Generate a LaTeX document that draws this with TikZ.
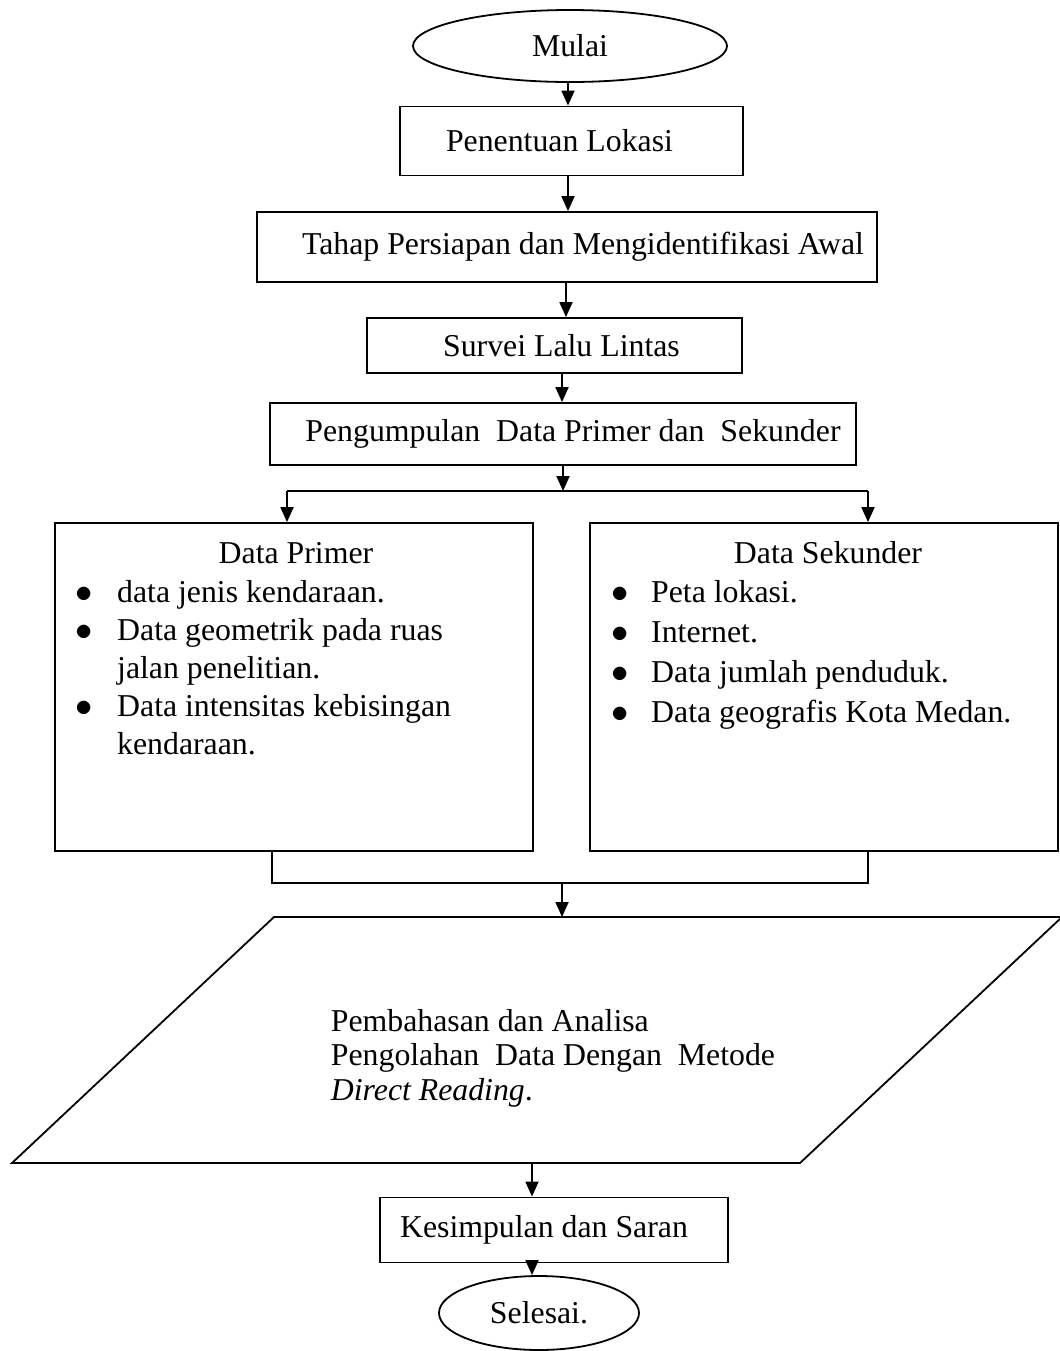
\documentclass[tikz,border=0pt]{standalone}
\usepackage{fontspec}
\setmainfont{Liberation Serif}
\usetikzlibrary{arrows.meta,positioning,shapes.geometric}
\newcommand\flowfont{\fontsize{15.9}{18.75}\selectfont}
\newcommand\parafont{\fontsize{15.9}{17.25}\selectfont}
\newcommand\blt{$\bullet$}
\tikzset{
  >={Triangle[length=7.5pt,width=6.5pt]},
  every node/.style={font=\flowfont},
  box/.style  ={draw, rectangle, inner sep=2pt},
  term/.style ={draw, ellipse, inner sep=0pt},
  txt/.style  ={inner sep=0pt},
  pgram/.style={draw}
}

\begin{document}
\begin{tikzpicture}[x=0.5pt, y=-0.5pt, line width=0.9pt]
\useasboundingbox (0,0) rectangle (1060,1351);

% main column
\node[term, minimum width=157pt, minimum height=36pt] (mulai) at (570,46) {Mulai};
\node[box, minimum width=171.5pt, minimum height=34.5pt] (lokasi) at (571.5,141) {Penentuan Lokasi\hspace*{12pt}};
\node[box, minimum width=310pt, minimum height=35pt] (tahap) at (567,247) {\hspace*{16pt}Tahap Persiapan dan Mengidentifikasi Awal};
\node[box, minimum width=187.5pt, minimum height=27.5pt] (survei) at (554.5,345.5) {\hspace*{7pt}Survei Lalu Lintas};
\node[box, minimum width=293pt, minimum height=31pt] (kumpul) at (563,434) {\hspace*{10pt}Pengumpulan\ \ Data Primer dan\ \ Sekunder};

\draw[->] (mulai.south -| 568,0) -- (568,0 |- lokasi.north);
\draw[->] (568,0 |- lokasi.south) -- (568,0 |- tahap.north);
\draw[->] (566,0 |- tahap.south) -- (566,0 |- survei.north);
\draw[->] (562,0 |- survei.south) -- (562,0 |- kumpul.north);

% two data boxes
\node[box, minimum width=239pt, minimum height=164pt] (primer) at (294,687) {};
\node[box, minimum width=234pt, minimum height=164pt] (sekunder) at (824,687) {};
\node[txt, anchor=base] (primerT) at (296,563) {Data Primer};
\node[txt, anchor=base] (sekunderT) at (828,563) {Data Sekunder};
\node[txt, anchor=base west, font=\fontsize{15.9}{19.1}\selectfont] (primerL) at (75,602) {%
  \begin{tabular}[t]{@{}c@{\hspace{12pt}}l@{}}
  \blt & data jenis kendaraan.\\
  \blt & Data geometrik pada ruas\\
       & jalan penelitian.\\
  \blt & Data intensitas kebisingan\\
       & kendaraan.
  \end{tabular}};
\node[txt, anchor=base west, font=\fontsize{15.9}{20}\selectfont] (sekunderL) at (611,602) {%
  \begin{tabular}[t]{@{}c@{\hspace{11pt}}l@{}}
  \blt & Peta lokasi.\\
  \blt & Internet.\\
  \blt & Data jumlah penduduk.\\
  \blt & Data geografis Kota Medan.
  \end{tabular}};

% split
\coordinate (brL) at (287,491);
\coordinate (brR) at (868,491);
\draw[->] (kumpul.south) -- (kumpul.south |- brL);
\draw (brL) -- (brR);
\draw[->] (brL) -- (brL |- primer.north);
\draw[->] (brR) -- (brR |- sekunder.north);

% join
\coordinate (jnL) at (272,883);
\coordinate (jnR) at (868,883);
\coordinate (jnM) at (562,883);
\draw (jnL |- primer.south) -- (jnL) -- (jnR) -- (jnR |- sekunder.south);

% analysis
\coordinate (pgA) at (274,917);
\coordinate (pgB) at (1062,917);
\coordinate (pgC) at (800,1163);
\coordinate (pgD) at (12,1163);
\draw[pgram] (pgA) -- (pgB) -- (pgC) -- (pgD) -- cycle;
\draw[->] (jnM) -- (jnM |- pgA);
\node[txt, align=left, anchor=west, font=\parafont] (bahas) at (330,1058)
  {Pembahasan dan Analisa\\Pengolahan\ \ Data Dengan\ \ Metode\\\textit{Direct Reading}.};

% end
\coordinate (pgOut) at (532,1163);
\node[box, minimum width=174pt, minimum height=32.5pt] (saran) at (554,1230) {Kesimpulan dan Saran\hspace*{10pt}};
\node[term, minimum width=100pt, minimum height=37pt] (selesai) at (539,1313) {Selesai.};
\draw[->] (pgOut) -- (pgOut |- saran.north);
\draw[->] (pgOut |- saran.south) -- (pgOut |- selesai.north);
\end{tikzpicture}
\end{document}
